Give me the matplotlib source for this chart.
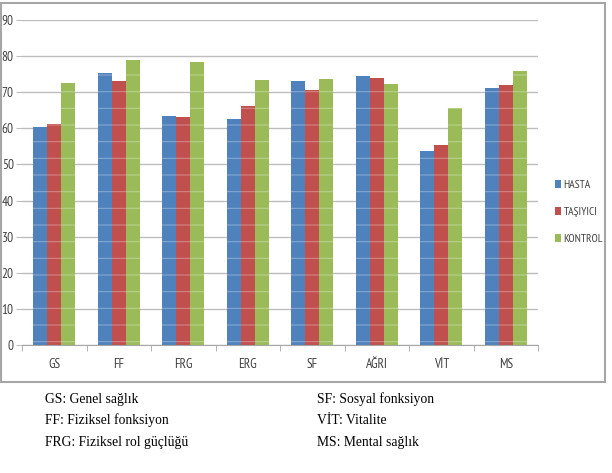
import numpy as np
import matplotlib
matplotlib.use("Agg")
import matplotlib.pyplot as plt
from matplotlib.patches import Rectangle

categories = ["GS", "FF", "FRG", "ERG", "SF", "AĞRI", "VİT", "MS"]
hasta = [60.5, 75.4, 63.5, 62.6, 73.1, 74.5, 53.8, 71.3]
tasiyici = [61.3, 73.0, 63.1, 66.3, 70.7, 73.8, 55.4, 72.1]
kontrol = [72.6, 78.9, 78.5, 73.3, 73.7, 72.2, 65.6, 75.9]
series_names = ["HASTA", "TAŞIYICI", "KONTROL"]
colors = ["#4F81BD", "#C0504D", "#9BBB59"]
notes_left = ["GS: Genel sağlık", "FF: Fiziksel fonksiyon", "FRG: Fiziksel rol güçlüğü"]
notes_right = ["SF: Sosyal fonksiyon", "VİT: Vitalite", "MS: Mental sağlık"]

plt.rcParams["hatch.linewidth"] = 0.8
narrow = ["PT Sans Narrow", "DejaVu Sans"]

fig = plt.figure(figsize=(6.12, 4.73), dpi=100)
fig.patch.set_facecolor("white")

# chart box
fig.patches.append(Rectangle((1 / 612, 1 - 382 / 473), 604 / 612, 379 / 473,
                             transform=fig.transFigure, fill=False,
                             edgecolor="#A6A6A6", linewidth=1.5))

ax = fig.add_axes([22 / 612, 1 - 345 / 473, 516 / 612, 325 / 473])
x = np.arange(len(categories))
w = 0.217
for k, (vals, name, c) in enumerate(zip([hasta, tasiyici, kontrol], series_names, colors)):
    ax.bar(x + (k - 1) * w, vals, width=w, color=c, label=name, hatch="-",
           edgecolor=(1, 1, 1, 0.3), linewidth=0, zorder=2)

ax.set_xlim(-0.5, len(categories) - 0.5)
ax.set_ylim(0, 90)
ax.set_yticks(range(0, 91, 10))
ax.yaxis.grid(True, color="#BDBDBD", linewidth=1, zorder=0)
ax.set_axisbelow(True)
for s in ["top", "right", "left"]:
    ax.spines[s].set_visible(False)
ax.spines["bottom"].set_color("#A6A6A6")
ax.tick_params(axis="y", length=4, color="#BDBDBD", labelsize=9.5, labelcolor="#404040", pad=2)
ax.set_yticklabels([str(v) for v in range(0, 91, 10)], family=narrow)
ax.set_xticks(x)
ax.set_xticklabels(categories, family=narrow, fontsize=9.5, color="#404040")
ax.tick_params(axis="x", length=0, pad=9)
ax.set_xticks(np.arange(len(categories) + 1) - 0.5, minor=True)
ax.tick_params(axis="x", which="minor", length=4, color="#A6A6A6")

leg = fig.legend(loc="center left", bbox_to_anchor=(545 / 612, 1 - 212 / 473), frameon=False,
                 handlelength=0.45, handleheight=0.75, handletextpad=0.25, labelspacing=1.45,
                 prop={"family": narrow, "size": 8.3}, labelcolor="#404040")
for h in leg.legend_handles:
    h.set_hatch(None)

for i, (l, r) in enumerate(zip(notes_left, notes_right)):
    y = 1 - (399 + i * 21.5) / 473
    fig.text(45 / 612, y, l, family="Liberation Serif", fontsize=9.8, va="center")
    fig.text(317 / 612, y, r, family="Liberation Serif", fontsize=9.8, va="center")

fig.savefig("out.png", dpi=100)
